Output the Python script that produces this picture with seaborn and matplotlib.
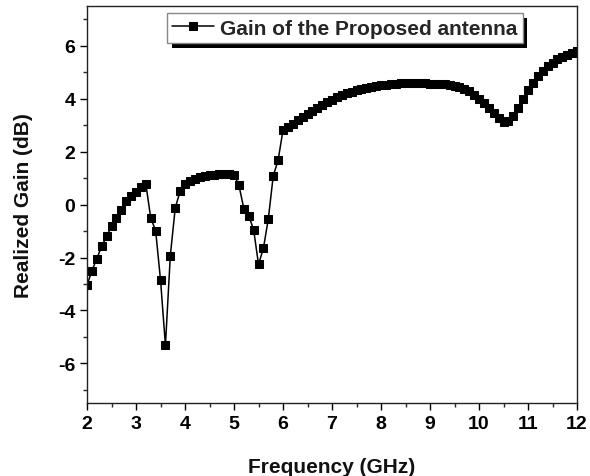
import matplotlib
matplotlib.use("Agg")
import matplotlib.pyplot as plt
import matplotlib.patheffects as pe
import seaborn as sns
import pandas as pd
from matplotlib.ticker import MultipleLocator

freq = [2.0, 2.1, 2.2, 2.3, 2.4, 2.5, 2.6, 2.7, 2.8, 2.9,
        3.0, 3.1, 3.2, 3.3, 3.4, 3.5, 3.6, 3.7, 3.8, 3.9,
        4.0, 4.1, 4.2, 4.3, 4.4, 4.5, 4.6, 4.7, 4.8, 4.9,
        5.0, 5.1, 5.2, 5.3, 5.4, 5.5, 5.6, 5.7, 5.8, 5.9,
        6.0, 6.1, 6.2, 6.3, 6.4, 6.5, 6.6, 6.7, 6.8, 6.9,
        7.0, 7.1, 7.2, 7.3, 7.4, 7.5, 7.6, 7.7, 7.8, 7.9,
        8.0, 8.1, 8.2, 8.3, 8.4, 8.5, 8.6, 8.7, 8.8, 8.9,
        9.0, 9.1, 9.2, 9.3, 9.4, 9.5, 9.6, 9.7, 9.8, 9.9,
        10.0, 10.1, 10.2, 10.3, 10.4, 10.5, 10.6, 10.7, 10.8, 10.9,
        11.0, 11.1, 11.2, 11.3, 11.4, 11.5, 11.6, 11.7, 11.8, 11.9,
        12.0]

gain = [-3.04, -2.50, -2.04, -1.58, -1.20, -0.82, -0.51, -0.19, 0.15, 0.32,
        0.48, 0.67, 0.79, -0.51, -0.98, -2.85, -5.32, -1.93, -0.13, 0.51,
        0.76, 0.88, 0.97, 1.03, 1.08, 1.11, 1.13, 1.14, 1.14, 1.14,
        1.13, 0.73, -0.15, -0.42, -0.95, -2.26, -1.65, -0.54, 1.08, 1.68,
        2.82, 2.95, 3.05, 3.18, 3.30, 3.42, 3.55, 3.66, 3.77, 3.87,
        3.96, 4.05, 4.13, 4.20, 4.27, 4.33, 4.38, 4.42, 4.46, 4.49,
        4.51, 4.53, 4.55, 4.57, 4.58, 4.59, 4.60, 4.60, 4.59, 4.58,
        4.57, 4.56, 4.55, 4.54, 4.52, 4.49, 4.45, 4.38, 4.28, 4.15,
        4.00, 3.83, 3.65, 3.45, 3.26, 3.13, 3.15, 3.33, 3.65, 4.00,
        4.32, 4.60, 4.85, 5.05, 5.22, 5.37, 5.49, 5.58, 5.66, 5.73,
        5.80]

series_label = "Gain of the Proposed antenna"
x_label = "Frequency (GHz)"
y_label = "Realized Gain (dB)"
x_ticks = [2, 3, 4, 5, 6, 7, 8, 9, 10, 11, 12]
y_ticks = [-6, -4, -2, 0, 2, 4, 6]

sns.set_style("ticks")
plt.rcParams["font.family"] = ["Liberation Sans", "DejaVu Sans"]
plt.rcParams["font.weight"] = "bold"

df = pd.DataFrame({"Frequency": freq, "Gain": gain})

fig = plt.figure(figsize=(5.9, 4.77), dpi=100)
ax = fig.add_axes([0.1475, 0.153, 0.8305, 0.832])

sns.lineplot(data=df, x="Frequency", y="Gain", ax=ax, color="black",
             marker="s", markersize=5.5, markeredgecolor="black",
             linewidth=1.1, label=series_label, sort=False)

ax.set_xlim(2, 12)
ax.set_ylim(-7.5, 7.5)
ax.set_xticks(x_ticks)
ax.set_yticks(y_ticks)
ax.set_xticklabels([str(t) for t in x_ticks])
ax.set_yticklabels([str(t) for t in y_ticks])
ax.xaxis.set_minor_locator(MultipleLocator(0.5))
ax.yaxis.set_minor_locator(MultipleLocator(1))
ax.tick_params(axis="both", which="major", direction="out", length=5, width=1,
               labelsize=14, color="black", labelcolor="black",
               top=False, right=False)
ax.tick_params(axis="both", which="minor", direction="out", length=3, width=1,
               top=False, right=False)
for lbl in ax.get_xticklabels() + ax.get_yticklabels():
    lbl.set_fontweight("bold")

for s in ax.spines.values():
    s.set_visible(True)
    s.set_color("#222222")
    s.set_linewidth(1.0)

ax.set_xlabel(x_label, fontsize=15, fontweight="bold", labelpad=18,
              color="#111111")
ax.set_ylabel(y_label, fontsize=15, fontweight="bold", labelpad=18,
              color="#111111")

leg = ax.legend(loc="upper left", bbox_to_anchor=(0.163, 0.982),
                fontsize=15, frameon=True, fancybox=False, shadow=False,
                handlelength=2.0, handletextpad=0.3, borderpad=0.25,
                borderaxespad=0)
frame = leg.get_frame()
frame.set_edgecolor("#888888")
frame.set_linewidth(1.0)
frame.set_alpha(1.0)
frame.set_path_effects([
    pe.SimplePatchShadow(offset=(3.5, -3.5), shadow_rgbFace="black", alpha=1.0),
    pe.Normal(),
])
for t in leg.get_texts():
    t.set_fontweight("bold")

fig.savefig("out.png", dpi=100)
